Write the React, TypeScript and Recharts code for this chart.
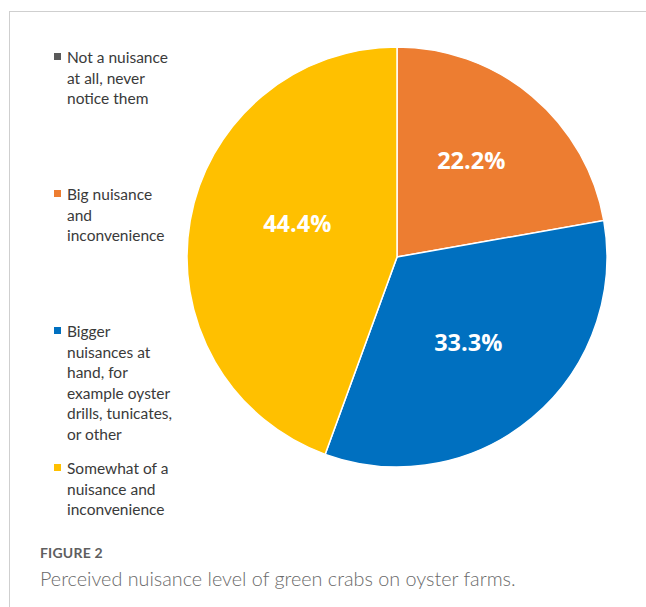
import React from "react"
import { Cell, Pie, PieChart } from "recharts"

const categories = [
  "Not a nuisance\nat all, never\nnotice them",
  "Big nuisance\nand\ninconvenience",
  "Bigger\nnuisances at\nhand, for\nexample oyster\ndrills, tunicates,\nor other",
  "Somewhat of a\nnuisance and\ninconvenience",
]
const shares = [0, 22.2, 33.3, 44.4]
const colors = ["#5a5a5a", "#ed7d31", "#0070c0", "#ffc000"]

// small per-slice nudges so the labels sit where the original "best fit" put them
const labelNudge = [
  [0, 0],
  [0, -9],
  [-3, -3],
  [14, -14],
]

const data = categories.map((name, i) => ({ name, value: shares[i] }))

const RADIAN = Math.PI / 180

function SliceLabel(props: any) {
  const { cx, cy, midAngle, outerRadius, value, index } = props
  if (!value) return null
  const r = outerRadius * 0.55
  const x = cx + r * Math.cos(-midAngle * RADIAN) + labelNudge[index][0]
  const y = cy + r * Math.sin(-midAngle * RADIAN) + labelNudge[index][1]
  return (
    <text
      x={x}
      y={y}
      fill="#fff"
      textAnchor="middle"
      dominantBaseline="central"
      fontFamily="'Open Sans', sans-serif"
      fontWeight={700}
      fontSize={23.5}
    >
      {`${value.toFixed(1)}%`}
    </text>
  )
}

export default function App() {
  return (
    <div style={{ position: "absolute", left: 0, top: 0, width: 646, height: 607, background: "#fff", overflow: "hidden" }}>
      <div
        style={{
          position: "absolute",
          left: 9,
          top: 11,
          width: 660,
          height: 620,
          borderTop: "1px solid #cfcfcf",
          borderLeft: "1px solid #cfcfcf",
        }}
      />
      <div style={{ position: "absolute", left: 0, top: 0 }}>
        <PieChart width={646} height={607} margin={{ top: 0, right: 0, bottom: 0, left: 0 }}>
          <Pie
            data={data}
            dataKey="value"
            nameKey="name"
            cx={397}
            cy={257}
            outerRadius={210}
            startAngle={90}
            endAngle={-270}
            stroke="#fff"
            strokeWidth={1.5}
            label={SliceLabel}
            labelLine={false}
            isAnimationActive={false}
          >
            {data.map((d, i) => (
              <Cell key={d.name} fill={colors[i]} />
            ))}
          </Pie>
        </PieChart>
      </div>
      <div style={{ position: "absolute", left: 54, top: 47, fontFamily: "Lato, sans-serif", fontSize: 15.5, color: "#3a3a3a" }}>
        {categories.map((name, i) => (
          <div key={name} style={{ display: "flex", alignItems: "flex-start", height: 137 }}>
            <div style={{ width: 7, height: 7, background: colors[i], marginTop: 6, marginRight: 6 }} />
            <div style={{ whiteSpace: "pre-line", lineHeight: "20.5px" }}>{name}</div>
          </div>
        ))}
      </div>
      <div style={{ position: "absolute", left: 40, top: 545, fontFamily: "Lato, sans-serif", color: "#555" }}>
        <div style={{ fontSize: 14, fontWeight: 700, letterSpacing: 0.2, lineHeight: "16px", color: "#5f5f5f" }}>FIGURE 2</div>
        <div style={{ fontSize: 19.8, fontWeight: 300, lineHeight: "26px", marginTop: 4, color: "#6a6a6a" }}>
          Perceived nuisance level of green crabs on oyster farms.
        </div>
      </div>
    </div>
  )
}
